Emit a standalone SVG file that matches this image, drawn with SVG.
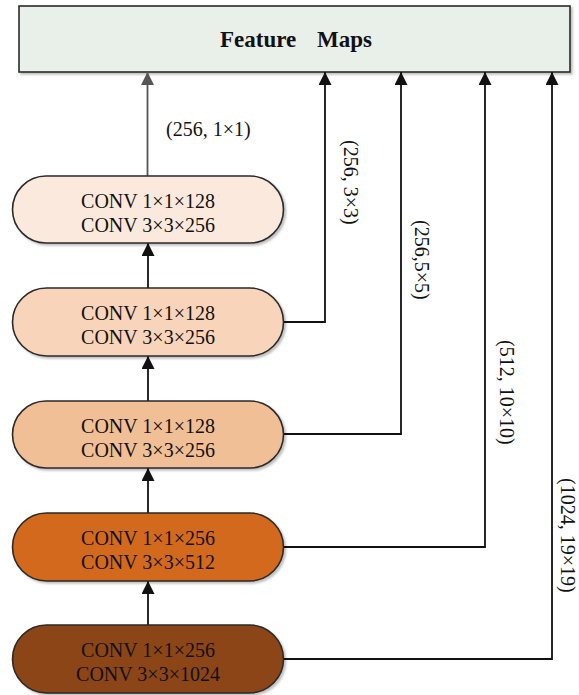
<svg xmlns="http://www.w3.org/2000/svg" width="579" height="695" viewBox="0 0 579 695">
<style>
  .node { stroke: #2a2a2a; stroke-width: 1.6; filter: url(#sh); }
  .lbl { font-family: "Liberation Serif", "Times New Roman", serif; font-size: 20px; fill: #111; }
  .ntxt { font-family: "Liberation Serif", "Times New Roman", serif; font-size: 20px; fill: #111; text-anchor: middle; }
  .title { font-family: "Liberation Serif", "Times New Roman", serif; font-size: 23px; font-weight: bold; fill: #111; }
  .conn { fill: none; stroke: #111; stroke-width: 1.8; }
  .conn-gray { fill: none; stroke: #555; stroke-width: 1.8; }
</style>
<defs>
  <filter id="sh" x="-5%" y="-10%" width="115%" height="130%">
    <feDropShadow dx="2" dy="2" stdDeviation="1.2" flood-color="#000" flood-opacity="0.25"/>
  </filter>
  <marker id="arr" markerUnits="userSpaceOnUse" markerWidth="13" markerHeight="13" refX="13" refY="6.5" orient="auto">
    <path d="M0,0 L13,6.5 L0,13 z" fill="#111"/>
  </marker>
  <marker id="arrg" markerUnits="userSpaceOnUse" markerWidth="13" markerHeight="13" refX="13" refY="6.5" orient="auto">
    <path d="M0,0 L13,6.5 L0,13 z" fill="#555"/>
  </marker>
</defs>
<rect width="579" height="695" fill="#fff"/>

<g id="feature-maps">
  <rect x="19" y="6" width="551" height="66" fill="#e9efe9" stroke="#2a2a2a" stroke-width="1.6" filter="url(#sh)"/>
  <text class="title" x="220" y="47">Feature</text>
  <text class="title" x="317" y="47">Maps</text>
</g>

<g id="connectors">
  <path class="conn-gray" d="M147.5,176 V72" marker-end="url(#arrg)"/>
  <path class="conn" d="M148,288 V243" marker-end="url(#arr)"/>
  <path class="conn" d="M148,401 V356" marker-end="url(#arr)"/>
  <path class="conn" d="M148,513 V468" marker-end="url(#arr)"/>
  <path class="conn" d="M148,625 V581" marker-end="url(#arr)"/>
  <path class="conn" d="M283,322 H325 V72" marker-end="url(#arr)"/>
  <path class="conn" d="M283,434 H401 V72" marker-end="url(#arr)"/>
  <path class="conn" d="M283,547 H485 V72" marker-end="url(#arr)"/>
  <path class="conn" d="M283,659 H552 V72" marker-end="url(#arr)"/>
  <text class="lbl" x="166" y="136">(256, 1×1)</text>
  <text class="lbl" transform="translate(344,140) rotate(90)">(256, 3×3)</text>
  <text class="lbl" transform="translate(415,220) rotate(90)">(256,5×5)</text>
  <text class="lbl" transform="translate(500,340) rotate(90)">(512, 10×10)</text>
  <text class="lbl" transform="translate(561,478) rotate(90)">(1024, 19×19)</text>
</g>

<g id="node1">
  <rect class="node" x="12.5" y="176" width="271" height="67" rx="33.5" fill="#fce9dd"/>
  <text class="ntxt" x="148" y="208">CONV 1×1×128</text>
  <text class="ntxt" x="148" y="232">CONV 3×3×256</text>
</g>
<g id="node2">
  <rect class="node" x="12.5" y="288" width="271" height="68" rx="34" fill="#f8d4ba"/>
  <text class="ntxt" x="148" y="320">CONV 1×1×128</text>
  <text class="ntxt" x="148" y="344">CONV 3×3×256</text>
</g>
<g id="node3">
  <rect class="node" x="12.5" y="401" width="271" height="67" rx="33.5" fill="#f0bf95"/>
  <text class="ntxt" x="148" y="433">CONV 1×1×128</text>
  <text class="ntxt" x="148" y="457">CONV 3×3×256</text>
</g>
<g id="node4">
  <rect class="node" x="12.5" y="513" width="271" height="68" rx="34" fill="#d2691e"/>
  <text class="ntxt" x="148" y="545">CONV 1×1×256</text>
  <text class="ntxt" x="148" y="569">CONV 3×3×512</text>
</g>
<g id="node5">
  <rect class="node" x="12.5" y="625" width="271" height="68" rx="34" fill="#8b4513"/>
  <text class="ntxt" x="148" y="657">CONV 1×1×256</text>
  <text class="ntxt" x="148" y="681">CONV 3×3×1024</text>
</g>
</svg>
